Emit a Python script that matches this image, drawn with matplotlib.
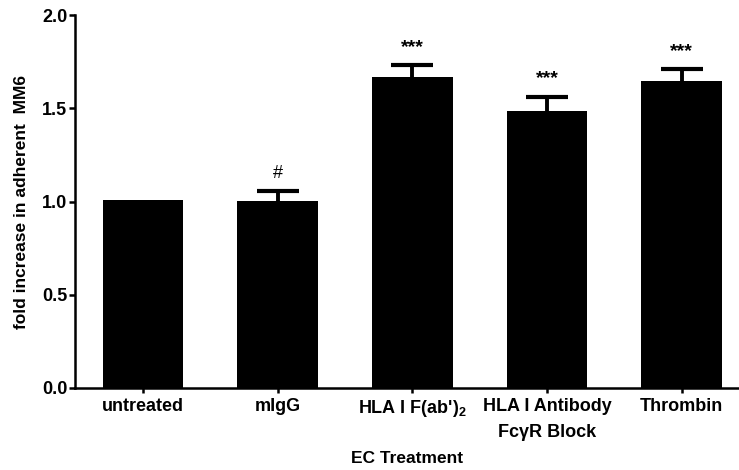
import numpy as np
import matplotlib.pyplot as plt

plt.rcParams['font.family'] = ['Liberation Sans', 'DejaVu Sans']
plt.rcParams['mathtext.fontset'] = 'custom'
plt.rcParams['mathtext.rm'] = 'Liberation Sans:bold'

# data
categories = ['untreated', 'mIgG', "HLA I F(ab')$_{\\mathrm{2}}$",
              'HLA I Antibody\nFc\u03b3R Block', 'Thrombin']
means = [1.008, 1.001, 1.669, 1.485, 1.648]
errors = [0.0, 0.055, 0.061, 0.077, 0.062]
marks = ['', '#', '***', '***', '***']

fig = plt.figure(figsize=(7.39, 4.70), dpi=100)
ax = fig.add_axes([0.1015, 0.1745, 0.8985, 0.7935])

x = np.arange(len(categories))
ax.bar(x, means, width=0.6, color='black', zorder=3)
# only the upper half of the error bar shows; the lower part hides behind the bar
ax.errorbar(x[1:], means[1:], yerr=errors[1:], fmt='none', ecolor='black',
            elinewidth=2.8, capsize=15, capthick=3.0, zorder=2)

for xi, m, e, s in zip(x, means, errors, marks):
    if s:
        ax.text(xi, m + e + 0.095, s, ha='center', va='center',
                fontsize=13 if s == '#' else 14,
                fontweight='bold' if s != '#' else 'normal')

ax.set_xlim(-0.505, 4.425)
ax.set_ylim(0, 2.0)
ax.set_yticks([0, 0.5, 1.0, 1.5, 2.0])
ax.set_yticklabels(['0.0', '0.5', '1.0', '1.5', '2.0'], fontsize=13, fontweight='bold')
ax.set_xticks(x)
ax.set_xticklabels(categories, fontsize=13, fontweight='bold', linespacing=1.65, va='top')

ax.spines['top'].set_visible(False)
ax.spines['right'].set_visible(False)
for sp in ('left', 'bottom'):
    ax.spines[sp].set_linewidth(1.8)
ax.tick_params(axis='y', length=4.5, width=1.8, pad=1)
ax.tick_params(axis='x', length=3.5, width=1.8, pad=4)

ax.set_ylabel('fold increase in adherent  MM6', fontsize=12.5, fontweight='bold', labelpad=9)
ax.set_xlabel('EC Treatment', fontsize=12.5, fontweight='bold', labelpad=7)

fig.savefig('out.png', dpi=100)
